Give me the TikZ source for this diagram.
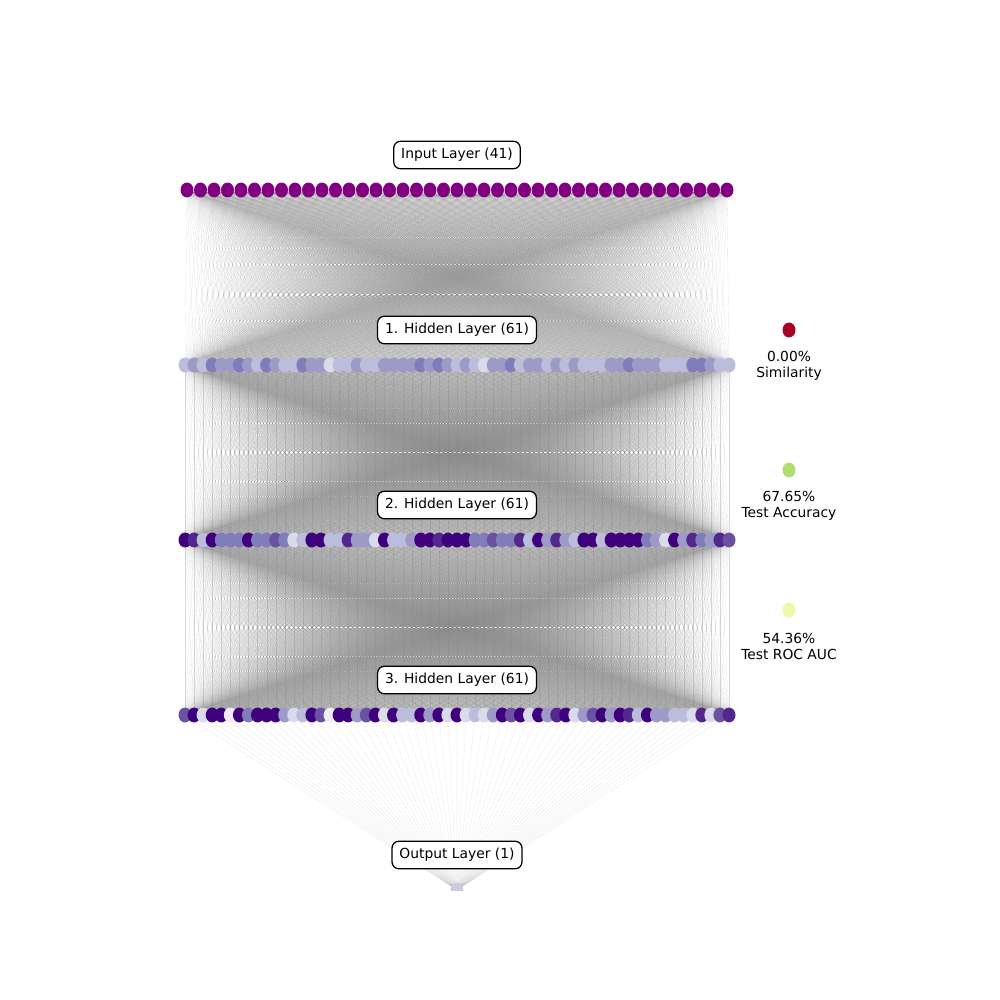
\documentclass[tikz,border=0pt]{standalone}
\usepackage{fontspec}
\setmainfont{DejaVu Sans}
\usetikzlibrary{shapes.geometric,backgrounds}

% Purples shades
\definecolor{pu0}{HTML}{EFEDF5}
\definecolor{pu1}{HTML}{DADAEB}
\definecolor{pu2}{HTML}{BCBDDC}
\definecolor{pu3}{HTML}{9E9AC8}
\definecolor{pu4}{HTML}{807DBA}
\definecolor{pu5}{HTML}{6A51A3}
\definecolor{pu6}{HTML}{54278F}
\definecolor{pu7}{HTML}{3F007D}
\definecolor{inpurple}{HTML}{800080}
\definecolor{outlav}{HTML}{CACBE3}
\definecolor{simred}{HTML}{A50026}
\definecolor{accgreen}{HTML}{B0DD70}
\definecolor{aucyellow}{HTML}{EEF8A8}

\def\xin{187}
\def\dxin{13.5}
\def\xhid{185}
\def\dxhid{9.0667}
\def\xmid{457}
\def\yin{190}
\def\yha{365}
\def\yhb{540}
\def\yhc{715}
\def\yout{890}
\def\xleg{789}

\begin{document}
\begin{tikzpicture}[x=0.254mm, y=-0.254mm,
    unit/.style={ellipse, inner sep=0pt, minimum width=3.3mm, minimum height=3.8mm},
    edge/.style={draw=gray, line width=0.1pt, opacity=0.3},
    layerbox/.style={draw, fill=white, rounded corners=5pt, line width=0.9pt, inner xsep=1.9mm, inner ysep=1.8mm, font=\fontsize{10}{12}\selectfont},
    legtext/.style={align=center, font=\fontsize{10}{11.5}\selectfont}]

\useasboundingbox (0,0) rectangle (1000,1000);

% Input layer
\foreach \k in {0,...,40} {
    \node[unit, fill=inpurple] (in\k) at (\xin+\k*\dxin,\yin) {};
}

% Hidden layers
\foreach \c [count=\k from 0] in {2,3,2,4,3,3,4,3,2,4,3,2,2,4,3,3,1,2,2,3,2,2,3,3,3,3,4,3,4,3,2,3,2,1,3,3,4,2,3,3,2,3,2,3,2,2,2,3,3,4,3,3,3,2,2,2,4,4,3,2,2} {
    \node[unit, fill=pu\c] (ha\k) at (\xhid+\k*\dxhid,\yha) {};
}
\foreach \c [count=\k from 0] in {7,6,2,7,4,4,4,7,4,4,5,4,1,2,7,7,2,2,6,3,3,1,7,2,2,3,7,7,6,7,7,7,4,4,5,4,4,6,2,7,3,6,3,2,7,7,2,7,7,7,7,4,3,1,7,3,6,4,3,6,5} {
    \node[unit, fill=pu\c] (hb\k) at (\xhid+\k*\dxhid,\yhb) {};
}
\foreach \c [count=\k from 0] in {5,7,1,7,7,0,7,4,7,7,7,3,1,2,7,5,0,7,7,3,5,7,1,7,2,2,7,3,7,1,7,1,2,1,3,7,5,7,1,7,3,6,7,1,3,5,7,3,7,6,2,7,3,3,2,2,1,6,1,5,6} {
    \node[unit, fill=pu\c] (hc\k) at (\xhid+\k*\dxhid,\yhc) {};
}

% Output layer (cut at the lower edge of the plot)
\begin{scope}
    \clip (430,860) rectangle (490,\yout);
    \node[unit, fill=outlav] (out) at (\xmid,\yout) {};
\end{scope}

% Connections
\begin{pgfonlayer}{background}
\foreach \i in {0,...,40} {
    \foreach \j in {0,...,60} {
        \draw[edge] (in\i.center) -- (ha\j.center);
    }
}
\foreach \i in {0,...,60} {
    \foreach \j in {0,...,60} {
        \draw[edge] (ha\i.center) -- (hb\j.center);
        \draw[edge] (hb\i.center) -- (hc\j.center);
    }
    \draw[edge] (hc\i.center) -- (out.center);
}
\end{pgfonlayer}

% Layer labels
\node[layerbox] (lin) at (\xmid,155) {Input Layer (41)};
\node[layerbox] (lha) at (\xmid,330) {1. Hidden Layer (61)};
\node[layerbox] (lhb) at (\xmid,505) {2. Hidden Layer (61)};
\node[layerbox] (lhc) at (\xmid,680) {3. Hidden Layer (61)};
\node[layerbox] (lout) at (\xmid,855) {Output Layer (1)};

% Metrics
\node[unit, fill=simred] (msim) at (\xleg,330) {};
\node[legtext] (tsim) at (\xleg,366) {0.00\%\\ Similarity};
\node[unit, fill=accgreen] (macc) at (\xleg,470) {};
\node[legtext] (tacc) at (\xleg,506) {67.65\%\\Test Accuracy};
\node[unit, fill=aucyellow] (mauc) at (\xleg,610) {};
\node[legtext] (tauc) at (\xleg,646) {54.36\%\\Test ROC AUC};

\end{tikzpicture}
\end{document}
